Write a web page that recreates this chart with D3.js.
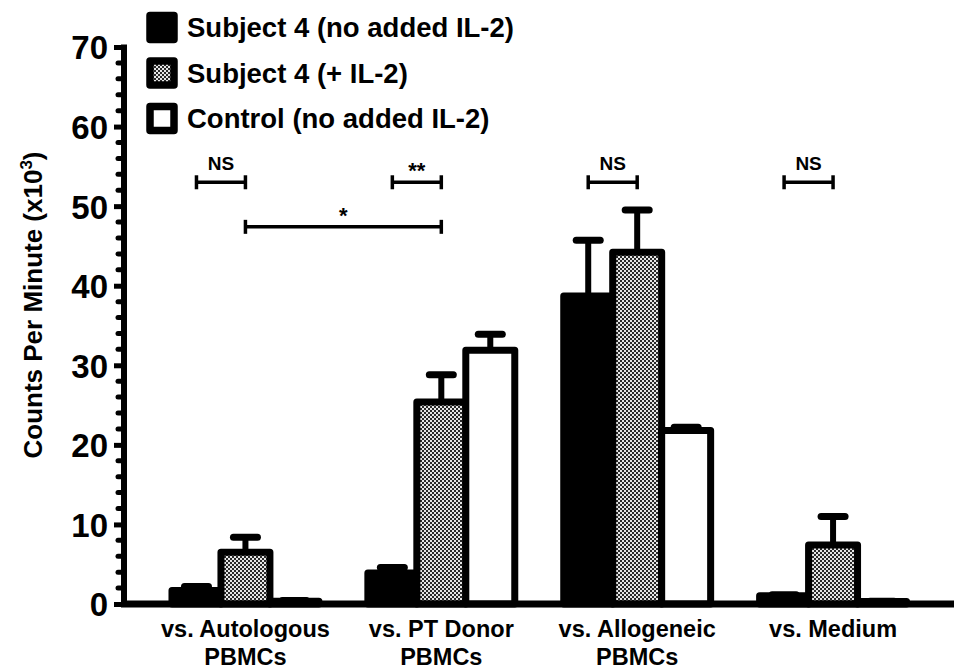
<!DOCTYPE html>
<html><head><meta charset="utf-8">
<script src="https://cdn.jsdelivr.net/npm/d3@7"></script>
<style>
html,body{margin:0;padding:0;background:#fff;}
svg{display:block;font-family:"Liberation Sans",Arial,sans-serif;font-weight:bold;}
</style></head>
<body>
<svg id="chart" width="954" height="671"></svg>
<script>
// ---- data ----
const categories = ["vs. Autologous\nPBMCs", "vs. PT Donor\nPBMCs", "vs. Allogeneic\nPBMCs", "vs. Medium"];
const seriesNames = ["Subject 4 (no added IL-2)", "Subject 4 (+ IL-2)", "Control (no added IL-2)"];
const subjectNoIL2 = [1.7, 3.9, 38.7, 1.05];
const subjectNoIL2Err = [0.5, 0.7, 7.0, 0.1];
const subjectIL2 = [6.5, 25.4, 44.2, 7.4];
const subjectIL2Err = [1.9, 3.4, 5.3, 3.6];
const controlNoIL2 = [0.35, 31.9, 21.8, 0.3];
const controlNoIL2Err = [0.1, 2.0, 0.4, 0.05];
const yTicks = [0, 10, 20, 30, 40, 50, 60, 70];
const brackets = [
  {from: [0, 0], to: [0, 1], level: 53, label: "NS"},
  {from: [1, 0], to: [1, 1], level: 53, label: "**"},
  {from: [0, 1], to: [1, 1], level: 47.4, label: "*"},
  {from: [2, 0], to: [2, 1], level: 53, label: "NS"},
  {from: [3, 0], to: [3, 1], level: 53, label: "NS"}
];

const values = [subjectNoIL2, subjectIL2, controlNoIL2];
const errors = [subjectNoIL2Err, subjectIL2Err, controlNoIL2Err];

const svg = d3.select("#chart");
const defs = svg.append("defs");
const pat = defs.append("pattern").attr("id", "checker")
  .attr("width", 4).attr("height", 4).attr("patternUnits", "userSpaceOnUse");
pat.append("rect").attr("width", 4).attr("height", 4).attr("fill", "#e6e6e6");
pat.append("rect").attr("width", 2).attr("height", 2).attr("fill", "#2a2a2a");
pat.append("rect").attr("x", 2).attr("y", 2).attr("width", 2).attr("height", 2).attr("fill", "#2a2a2a");

const fills = ["#000", "url(#checker)", "#fff"];

const y = d3.scaleLinear().domain([0, 70]).range([604, 47]);
const x0 = d3.scaleBand().domain(d3.range(categories.length)).range([147.5, 931])
  .paddingInner(0.25).paddingOuter(0.125);
const x1 = d3.scaleBand().domain(d3.range(seriesNames.length)).range([0, x0.bandwidth()]);

const axisX = 124;

// bars
values.forEach((vals, s) => {
  const g = svg.append("g");
  vals.forEach((v, i) => {
    const bx = x0(i) + x1(s);
    const bw = x1.bandwidth();
    const cx = bx + bw / 2;
    const e = errors[s][i];
    g.append("line").attr("x1", cx).attr("x2", cx).attr("y1", y(v)).attr("y2", y(v + e))
      .attr("stroke", "#000").attr("stroke-width", 6);
    g.append("line").attr("x1", cx - 12).attr("x2", cx + 12).attr("y1", y(v + e)).attr("y2", y(v + e))
      .attr("stroke", "#000").attr("stroke-width", 7).attr("stroke-linecap", "round");
    g.append("rect").attr("x", bx).attr("y", y(v)).attr("width", bw).attr("height", y(0) - y(v))
      .attr("fill", fills[s]).attr("stroke", "#000").attr("stroke-width", 7)
      .attr("stroke-linejoin", "round");
  });
});

// x axis line
svg.append("line").attr("x1", axisX - 3).attr("x2", 954).attr("y1", y(0)).attr("y2", y(0))
  .attr("stroke", "#000").attr("stroke-width", 7);

// y axis
const yAxisG = svg.append("g").attr("transform", `translate(${axisX},0)`)
  .call(d3.axisLeft(y).tickValues(yTicks).tickSize(10).tickPadding(6).tickFormat(d3.format("d")));
yAxisG.select(".domain").remove();
yAxisG.selectAll(".tick line").attr("stroke", "#000").attr("stroke-width", 5);
yAxisG.selectAll(".tick text").attr("font-size", 33).attr("font-weight", "bold")
  .attr("font-family", "'Liberation Sans',Arial,sans-serif").attr("fill", "#000").attr("dy", "0.36em");
const minor = d3.range(0, 70.01, 2).filter(v => v % 10 !== 0);
svg.append("g").selectAll("line").data(minor).join("line")
  .attr("x1", axisX - 6).attr("x2", axisX).attr("y1", d => y(d)).attr("y2", d => y(d))
  .attr("stroke", "#000").attr("stroke-width", 5).attr("stroke-linecap", "round");
svg.append("line").attr("x1", axisX).attr("x2", axisX).attr("y1", y(0)).attr("y2", y(70) - 2.5)
  .attr("stroke", "#000").attr("stroke-width", 6);

// x labels
categories.forEach((c, i) => {
  const t = svg.append("text").attr("x", x0(i) + x0.bandwidth() / 2).attr("y", 637)
    .attr("text-anchor", "middle").attr("font-size", 23.5).attr("fill", "#000");
  c.split("\n").forEach((line, k) => {
    t.append("tspan").attr("x", x0(i) + x0.bandwidth() / 2).attr("dy", k === 0 ? 0 : 28).text(line);
  });
});

// y title
const yt = svg.append("text").attr("transform", "translate(42,305) rotate(-90)")
  .attr("text-anchor", "middle").attr("font-size", 26).attr("fill", "#000");
yt.append("tspan").text("Counts Per Minute (x10");
yt.append("tspan").attr("font-size", 17).attr("dy", -10).text("3");
yt.append("tspan").attr("dy", 10).text(")");

// brackets
brackets.forEach(b => {
  const xa = x0(b.from[0]) + x1(b.from[1]) + x1.bandwidth() / 2;
  const xb = x0(b.to[0]) + x1(b.to[1]) + x1.bandwidth() / 2;
  const yy = y(b.level);
  const g = svg.append("g").attr("stroke", "#000").attr("stroke-width", 3.5);
  g.append("line").attr("x1", xa).attr("x2", xb).attr("y1", yy).attr("y2", yy);
  g.append("line").attr("x1", xa).attr("x2", xa).attr("y1", yy - 7).attr("y2", yy + 7);
  g.append("line").attr("x1", xb).attr("x2", xb).attr("y1", yy - 7).attr("y2", yy + 7);
  const isNS = b.label === "NS";
  svg.append("text").attr("x", (xa + xb) / 2).attr("y", isNS ? yy - 12 : yy - 4)
    .attr("text-anchor", "middle").attr("font-size", isNS ? 19 : 22).attr("fill", "#000")
    .text(b.label);
});

// legend
seriesNames.forEach((n, s) => {
  const cy = 27.5 + s * 45.5;
  svg.append("rect").attr("x", 150).attr("y", cy - 12).attr("width", 24).attr("height", 24)
    .attr("fill", fills[s]).attr("stroke", "#000").attr("stroke-width", 7.5).attr("stroke-linejoin", "round");
  svg.append("text").attr("x", 187).attr("y", cy + 9.5).attr("font-size", 27.5).attr("fill", "#000").text(n);
});
</script>
</body></html>
